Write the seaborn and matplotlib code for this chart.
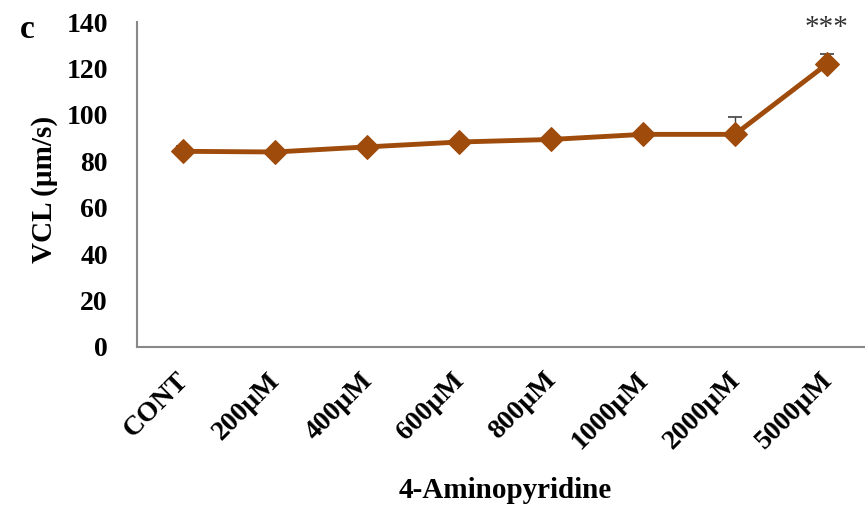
import matplotlib
matplotlib.use("Agg")
import matplotlib.pyplot as plt
import numpy as np
import pandas as pd
import seaborn as sns

categories = ["CONT", "200µM", "400µM", "600µM", "800µM", "1000µM", "2000µM", "5000µM"]
vcl_mean = [84.3, 84.0, 86.2, 88.3, 89.4, 91.6, 91.6, 121.9]
vcl_err = [2.5, 1.5, 1.5, 1.5, 1.5, 1.5, 7.5, 4.5]
y_ticks = [0, 20, 40, 60, 80, 100, 120, 140]

sns.set_theme(style="white")
plt.rcParams["font.family"] = ["Liberation Serif", "DejaVu Serif"]
plt.rcParams["font.weight"] = "bold"
plt.rcParams["text.color"] = "black"
plt.rcParams["xtick.color"] = "black"
plt.rcParams["ytick.color"] = "black"

line_color = "#9E4B0B"
W, H = 865, 509
fig = plt.figure(figsize=(W / 100, H / 100), dpi=100)
ax = fig.add_axes([137 / W, (H - 347) / H, 736 / W, 325 / H])

df = pd.DataFrame({"pos": np.arange(len(categories)), "VCL": vcl_mean})

# upper-only error bars, drawn beneath the line
ax.errorbar(df["pos"], df["VCL"], yerr=[np.zeros(len(vcl_err)), vcl_err],
            fmt="none", ecolor="#404040", elinewidth=1.0, capsize=5, capthick=1.2, zorder=1)

sns.lineplot(data=df, x="pos", y="VCL", ax=ax, color=line_color, linewidth=3.5,
             marker="D", markersize=12, markeredgecolor=line_color, zorder=3)

ax.set_xlim(-0.5, len(categories) - 0.5)
ax.set_ylim(0, 140)
ax.set_yticks(y_ticks)
ax.set_yticklabels([str(v) for v in y_ticks])
for lbl in ax.get_yticklabels():
    lbl.set_fontsize(20)
    lbl.set_fontweight("bold")
    lbl.set_color("black")

# ticks at category boundaries; rotated labels anchored just left of each centre
ax.set_xticks(np.arange(len(categories) + 1) - 0.5)
ax.set_xticklabels([])
ax.set_xticks(np.arange(len(categories)) - 0.08, minor=True)
ax.set_xticklabels(categories, minor=True, rotation=45, ha="right",
                   rotation_mode="anchor")
for lbl in ax.get_xticklabels(minor=True):
    lbl.set_fontsize(20)
    lbl.set_fontweight("bold")
    lbl.set_color("black")
ax.tick_params(axis="x", which="major", length=6, width=1, color="#888888", direction="out")
ax.tick_params(axis="x", which="minor", length=0, pad=15)
ax.tick_params(axis="y", length=7, width=1, color="#888888", direction="out", pad=14)

for side in ["top", "right"]:
    ax.spines[side].set_visible(False)
for side in ["left", "bottom"]:
    ax.spines[side].set_color("#888888")
    ax.spines[side].set_linewidth(1.5)

ax.set_xlabel("")
ax.set_ylabel("")
fig.text(505 / W, 1 - 491 / H, "4-Aminopyridine", fontsize=21, fontweight="bold",
         ha="center", va="center", color="black")
fig.text(45 / W, 1 - 189 / H, "VCL (µm/s)", fontsize=21, fontweight="bold",
         ha="center", va="center", rotation=90, color="black")

ax.text(7, 137.5, "***", ha="center", va="center", fontsize=21, color="#333333",
        fontweight="normal")
fig.text(20 / W, 1 - 30 / H, "c", fontsize=24, fontweight="bold", va="center", color="black")

fig.savefig("out.png", dpi=100)
